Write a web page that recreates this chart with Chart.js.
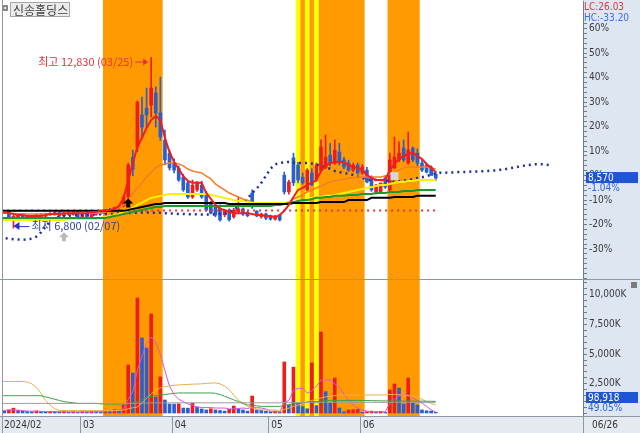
<!DOCTYPE html>
<html lang="ko">
<head>
<meta charset="utf-8">
<title>신송홀딩스</title>
<script src="https://cdn.jsdelivr.net/npm/chart.js@4.4.1/dist/chart.umd.min.js"></script>
<style>
  html, body { margin: 0; padding: 0; background: #fff; overflow: hidden; }
  #chart { display: block; }
</style>
</head>
<body>
<canvas id="chart" width="640" height="433"></canvas>
<script>
// values
const stockName = '신송홀딩스';
const basePrice = 8660; // previous close = 0% line

const dates = [
  '02/01','02/02','02/05','02/06','02/07','02/08','02/13','02/14','02/15','02/16',
  '02/19','02/20','02/21','02/22','02/23','02/26','02/27','02/28','02/29',
  '03/04','03/05','03/06','03/07','03/08','03/11','03/12','03/13','03/14','03/15',
  '03/18','03/19','03/20','03/21','03/22','03/25','03/26','03/27','03/28','03/29',
  '04/01','04/02','04/03','04/04','04/05','04/08','04/09','04/11','04/12','04/15',
  '04/16','04/17','04/18','04/19','04/22','04/23','04/24','04/25','04/26','04/29','04/30',
  '05/02','05/03','05/07','05/08','05/09','05/10','05/13','05/14','05/16','05/17',
  '05/20','05/21','05/22','05/23','05/24','05/27','05/28','05/29','05/30','05/31',
  '06/03','06/04','06/05','06/07','06/10','06/11','06/12','06/13','06/14','06/17',
  '06/18','06/19','06/20','06/21','06/24','06/25','06/26'
];
const monthLabels = ['2024/02', '03', '04', '05', '06'];

const opens = [
  7400,7360,7330,7390,7180,7200,7270,7130,7230,7150,
  7280,7220,7310,7270,7350,7230,7320,7280,7350,7200,
  7300,7150,7280,7330,7310,7420,7400,7520,7580,7900,
  9300,9660,10800,11040,11150,11580,10870,9910,9450,9100,
  8920,8600,8400,7900,8150,8320,8040,7690,7620,7500,
  7270,7440,7200,7370,7480,7350,8040,7400,7200,7300,
  7200,7120,7260,8670,8080,9280,9030,8600,8150,8750,
  8500,8850,8930,9380,9100,9490,9210,9100,8850,9030,
  8750,8850,8600,8080,8080,8570,8150,8930,9210,9630,
  9100,9630,9450,9100,9030,8960,8700
];
const highs = [
  7450,7420,7420,7400,7250,7290,7300,7250,7260,7300,
  7320,7330,7350,7380,7400,7350,7360,7380,7400,7320,
  7340,7300,7350,7400,7450,7500,7550,7600,7950,9100,
  9560,11300,11430,11750,12830,11800,12140,10270,9560,9250,
  9000,8700,8450,8500,8450,8460,8100,7750,7690,7620,
  7440,7480,7500,7900,7520,7400,8150,7420,7330,7330,
  7260,7250,7290,8780,8500,9450,9130,8750,8900,8900,
  9100,9920,10090,9800,9920,9800,9300,9200,9100,9100,
  9050,8950,8650,8350,8400,8650,9450,10020,9850,9920,
  10200,9670,9600,9200,9100,9000,8800
];
const lows = [
  7330,7300,7310,7150,6800,7150,7100,7100,7120,7140,
  7200,7200,7250,7260,7200,7220,7250,7260,7180,7180,
  7100,7140,7250,7280,7300,7380,7390,7450,7550,7850,
  8650,9500,10020,10370,10730,10370,9900,9030,8850,8750,
  8450,8100,7850,7850,8100,7850,7400,7300,7200,7050,
  7200,7050,7150,7330,7250,7200,7500,7200,7150,7100,
  7080,7080,7050,8000,8000,8300,8400,8350,8100,8300,
  8450,8800,8900,9000,9050,9030,8900,8800,8800,8700,
  8700,8400,8100,8000,8050,8200,8100,8900,9150,9150,
  9050,9150,9000,8800,8750,8700,8480
];
const closes = [
  7360,7330,7390,7180,7200,7270,7130,7230,7150,7280,
  7220,7310,7270,7350,7230,7320,7280,7350,7200,7300,
  7150,7280,7330,7310,7420,7400,7520,7580,7900,9030,
  8880,11250,10370,10800,11750,10870,10020,9210,8930,8850,
  8500,8150,7900,8320,8400,7900,7440,7330,7260,7090,
  7420,7100,7440,7480,7300,7240,7550,7230,7300,7150,
  7120,7220,7090,8080,8430,8400,8500,8400,8850,8330,
  9030,9670,9310,9100,9560,9100,8960,8850,9030,8750,
  8960,8430,8150,8320,8390,8250,9210,9310,9450,9210,
  9560,9210,9100,8850,8780,8660,8570
];

// price moving averages
const ma5 = [
  7370,7370,7370,7330,7300,7260,7260,7230,7230,7230,
  7230,7260,7300,7300,7300,7330,7330,7330,7330,7330,
  7330,7370,7370,7410,7410,7440,7480,7580,7870,8470,
  9100,9670,9990,10340,10620,10760,10620,9990,9490,9140,
  8890,8640,8470,8400,8400,8400,8040,7830,7620,7480,
  7440,7370,7330,7330,7330,7330,7300,7260,7260,7230,
  7230,7190,7260,7410,7620,7900,8150,8220,8320,8400,
  8500,8820,9000,9100,9140,9140,9140,9030,8960,8930,
  8850,8680,8570,8500,8500,8500,8850,9070,9240,9350,
  9420,9460,9350,9240,9070,8930,8780
];
const ma20 = [
  7350,7340,7340,7330,7320,7310,7310,7300,7300,7300,
  7300,7300,7310,7310,7320,7320,7320,7330,7330,7330,
  7330,7330,7330,7330,7370,7410,7440,7510,7620,7790,
  8040,8220,8400,8610,8780,8930,9030,9070,9100,9100,
  9070,9000,8890,8820,8780,8750,8640,8540,8360,8250,
  8150,8040,7970,7900,7830,7790,7720,7690,7650,7650,
  7620,7620,7620,7650,7720,7830,7900,7970,8080,8150,
  8220,8290,8360,8430,8470,8500,8540,8570,8570,8610,
  8610,8610,8610,8610,8610,8640,8710,8780,8850,8930,
  8960,8960,8960,8960,8960,8930,8890
];
const ma60 = [
  7090,7090,7090,7090,7090,7090,7090,7090,7090,7090,
  7090,7090,7090,7090,7090,7090,7120,7120,7120,7120,
  7120,7120,7120,7160,7190,7230,7260,7300,7370,7440,
  7510,7620,7690,7790,7870,7900,7940,7970,8010,8010,
  8010,8010,8010,8010,8010,8010,8010,7970,7940,7900,
  7870,7830,7790,7760,7760,7720,7690,7690,7690,7690,
  7690,7690,7690,7690,7720,7720,7760,7790,7830,7870,
  7870,7900,7940,7940,7970,8010,8040,8080,8110,8150,
  8180,8220,8250,8290,8320,8320,8360,8400,8430,8430,
  8470,8470,8500,8500,8500,8500,8500
];
const ma120 = [
  7160,7160,7160,7160,7160,7160,7160,7160,7160,7160,
  7160,7160,7160,7160,7160,7160,7160,7160,7160,7160,
  7160,7160,7160,7160,7160,7190,7230,7260,7300,7330,
  7370,7410,7440,7480,7510,7550,7550,7580,7580,7580,
  7580,7580,7580,7580,7580,7580,7580,7580,7580,7580,
  7580,7580,7580,7580,7580,7580,7580,7580,7580,7580,
  7580,7620,7620,7650,7690,7720,7760,7790,7790,7830,
  7870,7870,7900,7900,7940,7940,7940,7970,7970,7970,
  8010,8010,8010,8040,8040,8040,8080,8080,8080,8110,
  8110,8110,8150,8150,8150,8150,8150
];
const ma240 = [
  7410,7410,7410,7410,7410,7410,7410,7410,7410,7410,
  7410,7410,7410,7410,7410,7410,7410,7410,7410,7410,
  7410,7410,7410,7410,7410,7410,7410,7410,7410,7440,
  7480,7510,7550,7580,7620,7650,7650,7690,7690,7690,
  7690,7690,7690,7690,7690,7690,7690,7690,7690,7690,
  7690,7650,7650,7650,7650,7650,7650,7650,7650,7650,
  7650,7650,7650,7650,7650,7690,7690,7690,7690,7690,
  7690,7720,7720,7720,7720,7720,7720,7790,7790,7790,
  7790,7790,7870,7870,7870,7870,7870,7900,7900,7900,
  7900,7900,7940,7940,7940,7940,7940
];
// blue dotted line, runs 25 days past the last candle
const leadSpan = [
  6490,6470,6450,6430,6410,6400,6390,6400,6430,6500,
  6650,6850,7050,7150,7200,7220,7240,7250,7260,7260,
  7270,7280,7280,7290,7300,7300,7310,7320,7330,7330,
  7340,7340,7350,7350,7350,7340,7340,7330,7320,7310,
  7300,7300,7290,7290,7290,7280,7280,7280,7290,7300,
  7310,7350,7450,7560,7700,7850,8040,8200,8400,8650,
  8900,9050,9100,9130,9140,9120,9100,9100,9100,9080,
  9050,9000,8950,8900,8820,8780,8750,8720,8680,8620,
  8580,8520,8500,8500,8500,8490,8470,8440,8450,8490,
  8500,8530,8570,8600,8640,8690,8740,8760,8760,8770,
  8770,8780,8780,8790,8800,8800,8810,8820,8830,8840,
  8860,8880,8910,8940,8970,9000,9030,9050,9060,9060,
  9040,9020
];
const flatLevel = [7420, 7420]; // red dotted line, first to last day

// volume, thousands of shares
const volumesK = [
  350,250,200,300,450,250,200,180,150,220,
  160,140,180,150,130,170,120,140,110,150,
  130,160,140,120,250,200,320,280,720,4080,
  3410,9720,6360,5520,8380,1390,3080,1140,800,790,
  810,460,450,880,550,380,300,400,300,250,
  200,350,630,400,300,200,1470,300,250,200,
  150,200,150,4340,700,3900,880,570,400,4250,
  660,6860,1840,880,2990,470,150,300,310,350,
  100,150,200,120,180,100,1980,2490,2150,800,
  2990,880,720,300,230,201.67,98.918
];
const vma5 = [
  250,230,250,300,320,280,250,200,190,200,
  180,170,170,160,150,150,140,140,130,140,
  140,140,140,150,180,200,230,300,400,1200,
  1800,3660,4800,5910,6440,6000,5000,3600,2300,1600,
  1200,1000,800,700,550,500,500,500,460,460,
  460,380,400,420,460,420,560,500,460,380,
  200,180,150,950,1100,1980,2100,2150,1730,1900,
  2300,2820,2820,2820,2500,2230,1600,1140,700,460,
  300,200,150,150,150,130,880,1200,1500,1560,
  1560,1300,1100,880,600,300,130
];
const vma20 = [
  2700,2700,2700,2700,2700,2700,2700,2650,2500,2200,
  1700,1100,700,400,250,250,250,250,250,250,
  250,250,250,250,250,250,250,250,300,400,
  480,550,900,1300,1650,1980,2150,2250,2320,2380,
  2400,2430,2450,2470,2480,2500,2530,2560,2570,2500,
  2300,2000,1560,1100,880,600,460,400,320,300,
  300,300,200,350,450,600,700,880,950,1100,
  1200,1300,1400,1450,1500,1560,1560,1560,1560,1560,
  1560,1560,1560,1560,1560,1560,1600,1600,1580,1550,
  1500,1450,1350,1200,1000,850,715
];
const vma60 = [
  1500,1500,1500,1500,1500,1500,1500,1500,1500,1500,
  1500,1400,1300,1200,1100,1000,950,900,850,850,
  850,850,850,820,800,800,800,800,800,850,
  900,1000,1150,1390,1450,1500,1560,1600,1650,1700,
  1730,1730,1730,1730,1730,1730,1730,1730,1700,1600,
  1450,1300,1150,1000,850,720,700,650,600,600,
  600,600,600,700,750,800,850,900,950,1000,
  1000,1050,1080,1100,1100,1100,1100,1100,1100,1100,
  1100,1100,1080,1080,1060,1060,1060,1050,1050,1050,
  1050,1050,1040,1040,1030,1030,1020
];
const vma120 = [
  850,850,850,850,850,850,850,850,850,850,
  850,850,850,850,850,850,850,850,850,850,
  850,850,850,850,850,850,850,850,850,850,
  850,860,870,880,890,900,900,900,900,900,
  900,900,900,900,900,900,900,900,900,900,
  900,900,900,900,900,900,900,900,900,900,
  900,900,900,910,910,920,920,920,930,930,
  930,940,940,940,940,940,940,940,940,940,
  940,940,940,940,940,940,940,940,940,940,
  940,940,940,940,940,940,940
];

// highlighted days: [first, last, kind]
const bands = [
  [24, 36, 'o'], [66, 66, 'y'], [67, 67, 'o'], [68, 68, 'y'],
  [69, 69, 'o'], [70, 70, 'y'], [71, 80, 'o'], [86, 92, 'o']
];
const pctLabels = [60, 50, 40, 30, 20, 10, 0, -10, -20, -30];
const volLabelsK = [2500, 5000, 7500, 10000];
const markers = [
  { day: 29, price: 7850, kind: 'buy' },
  { day: 15, price: 6650, kind: 'grayArrow' },
  { day: 87, price: 8640, kind: 'graySquare' }
];

// ---- styling ----
const UP = '#ee1d1d', DOWN = '#2a5fd0';
const NUM_FONT = "'DejaVu Sans Condensed', 'DejaVu Sans', sans-serif";
const KR_FONT = "'Noto Sans CJK KR', sans-serif";
const AXIS_COL = '#6f7c8c';
const DATE_STRIP = 17;

const idx = dates.map((d, i) => i);
const pts = arr => arr.map((v, i) => ({ x: i, y: v }));
const candleCol = idx.map(i => closes[i] >= opens[i] ? UP : DOWN);
const volCol = idx.map(i => i === 0 || volumesK[i] >= volumesK[i - 1] ? UP : DOWN);
const fmt = n => n.toLocaleString('en-US');

// month separators sit half a day before the first trading day of each month
const monthTicks = [];
idx.forEach(i => { if (i > 0 && dates[i].slice(0, 2) !== dates[i - 1].slice(0, 2)) monthTicks.push(i - 0.5); });

const X_MIN = 1.72, X_MAX = 128.08;

function line(data, color, width, axis, extra) {
  return Object.assign({
    type: 'line', yAxisID: axis, data: pts(data), borderColor: color,
    borderWidth: width, pointRadius: 0, tension: 0, fill: false, order: 2
  }, extra || {});
}

// right-hand axes: fixed width, no extra label padding above/below
function fixAxis(s) {
  s.width = 57;
  s.paddingTop = 0;
  s.paddingBottom = 0;
}

const frame = {
  id: 'frame',
  beforeDraw(chart) {
    const { ctx, chartArea: a, width, height } = chart;
    ctx.save();
    ctx.fillStyle = '#ffffff';
    ctx.fillRect(0, 0, width, height);
    ctx.fillStyle = '#dde6f1';
    ctx.fillRect(a.right, 0, width - a.right, a.bottom);
    ctx.fillStyle = '#e5eaf1';
    ctx.fillRect(0, a.bottom, width, height - a.bottom);
    ctx.restore();
  },
  beforeDatasetsDraw(chart) {
    const { ctx, chartArea: a, scales: { x } } = chart;
    ctx.save();
    bands.forEach(([from, to, kind]) => {
      const x0 = x.getPixelForValue(from - 0.5), x1 = x.getPixelForValue(to + 0.5);
      ctx.fillStyle = kind === 'y' ? '#ffff00' : '#ff9a00';
      ctx.fillRect(x0, 0, x1 - x0, a.bottom);
    });
    ctx.restore();
  },
  afterDatasetsDraw(chart) {
    const { ctx, chartArea: a, scales: { x, y, yv }, width, height } = chart;
    ctx.save();
    // frame, panel separator, date strip
    ctx.strokeStyle = '#8e98a5';
    ctx.lineWidth = 1;
    ctx.beginPath();
    ctx.moveTo(0, Math.round(yv.top) - 0.5); ctx.lineTo(width, Math.round(yv.top) - 0.5);
    ctx.moveTo(0, Math.round(a.bottom) + 0.5); ctx.lineTo(width, Math.round(a.bottom) + 0.5);
    ctx.moveTo(a.left - 0.5, 0); ctx.lineTo(a.left - 0.5, height);
    ctx.moveTo(Math.round(a.right) + 0.5, a.bottom); ctx.lineTo(Math.round(a.right) + 0.5, height);
    monthTicks.forEach(v => {
      const px = Math.round(x.getPixelForValue(v)) + 0.5;
      ctx.moveTo(px, a.bottom); ctx.lineTo(px, height);
    });
    ctx.stroke();
    ctx.fillStyle = '#333333';
    ctx.font = '10px ' + NUM_FONT;
    ctx.textAlign = 'left'; ctx.textBaseline = 'middle';
    [X_MIN].concat(monthTicks).forEach((v, i) => {
      ctx.fillText(monthLabels[i], x.getPixelForValue(v) + (i === 0 ? 1 : 3), a.bottom + 9);
    });

    // highest price note
    let hi = 0, lo = 0;
    idx.forEach(i => { if (highs[i] > highs[hi]) hi = i; if (lows[i] < lows[lo]) lo = i; });
    const hx = x.getPixelForValue(hi), hy = y.getPixelForValue(highs[hi]) + 4;
    ctx.fillStyle = '#e2333b'; ctx.strokeStyle = '#e2333b';
    ctx.font = '11px ' + KR_FONT;
    ctx.textAlign = 'right';
    ctx.fillText('최고 ' + fmt(highs[hi]) + ' (' + dates[hi] + ')', hx - 18, hy);
    ctx.beginPath(); ctx.moveTo(hx - 16, hy + 0.5); ctx.lineTo(hx - 7, hy + 0.5); ctx.stroke();
    ctx.beginPath(); ctx.moveTo(hx - 3, hy + 0.5); ctx.lineTo(hx - 8, hy - 3); ctx.lineTo(hx - 8, hy + 4); ctx.closePath(); ctx.fill();

    // lowest price note
    const lx = x.getPixelForValue(lo), ly = y.getPixelForValue(lows[lo]) - 2;
    ctx.fillStyle = '#2436c8'; ctx.strokeStyle = '#2436c8';
    ctx.beginPath(); ctx.moveTo(lx, ly); ctx.lineTo(lx + 6, ly - 4); ctx.lineTo(lx + 6, ly + 4); ctx.closePath(); ctx.fill();
    ctx.beginPath(); ctx.moveTo(lx + 5, ly + 0.5); ctx.lineTo(lx + 16, ly + 0.5); ctx.stroke();
    ctx.fillStyle = '#33409a';
    ctx.textAlign = 'left';
    ctx.fillText('최저 ' + fmt(lows[lo]) + ' (' + dates[lo] + ')', lx + 18, ly);

    // signal markers
    markers.forEach(m => {
      const mx = x.getPixelForValue(m.day), my = y.getPixelForValue(m.price);
      if (m.kind === 'graySquare') {
        ctx.fillStyle = '#d6d6d6';
        ctx.fillRect(mx - 4, my - 4, 8, 8);
        return;
      }
      ctx.fillStyle = m.kind === 'buy' ? '#000000' : '#b9b9b9';
      ctx.beginPath();
      ctx.moveTo(mx, my); ctx.lineTo(mx + 5, my + 5); ctx.lineTo(mx + 2, my + 5);
      ctx.lineTo(mx + 2, my + 9); ctx.lineTo(mx - 2, my + 9); ctx.lineTo(mx - 2, my + 5);
      ctx.lineTo(mx - 5, my + 5); ctx.closePath(); ctx.fill();
    });
    ctx.restore();
  },
  afterDraw(chart) {
    const { ctx, chartArea: a, scales: { y, yv }, width } = chart;
    const last = closes.length - 1;
    ctx.save();
    ctx.textBaseline = 'middle'; ctx.textAlign = 'left';

    // title box
    ctx.fillStyle = '#8a8a8a'; ctx.fillRect(2, 5, 6, 6);
    ctx.fillStyle = '#e2e2e2'; ctx.fillRect(4, 7, 2, 2);
    ctx.fillStyle = '#ececec'; ctx.fillRect(10.5, 2.5, 59, 14);
    ctx.strokeStyle = '#a5a5a5'; ctx.lineWidth = 1; ctx.strokeRect(10.5, 2.5, 59, 14);
    ctx.fillStyle = '#3c3c3c'; ctx.font = '12px ' + KR_FONT;
    ctx.fillText(stockName, 13, 10);

    // right side readouts
    ctx.font = '10px ' + NUM_FONT;
    const lc = (closes[last] / Math.min(...lows) - 1) * 100;
    const hc = (closes[last] / Math.max(...highs) - 1) * 100;
    ctx.fillStyle = '#dde6f1'; ctx.fillRect(a.right + 1, 0, 56, 23);
    ctx.fillStyle = '#e2333b'; ctx.fillText('LC:' + lc.toFixed(2), a.right + 1, 7);
    ctx.fillStyle = '#3a6fd8'; ctx.fillText('HC:' + hc.toFixed(2), a.right + 1, 18);

    const py = y.getPixelForValue(closes[last]);
    ctx.fillStyle = '#1f55d2'; ctx.fillRect(a.right + 3, py - 6, 52, 11);
    ctx.fillStyle = '#ffffff'; ctx.fillText(fmt(closes[last]), a.right + 5, py);
    ctx.fillStyle = '#2e63dc';
    ctx.fillText(((closes[last] / basePrice - 1) * 100).toFixed(2) + '%', a.right + 5, py + 10);

    const vy = Math.min(yv.getPixelForValue(volumesK[last]), a.bottom - 18);
    ctx.fillStyle = '#1f55d2'; ctx.fillRect(a.right + 3, vy - 6, 52, 11);
    ctx.fillStyle = '#ffffff'; ctx.fillText(fmt(Math.round(volumesK[last] * 1000)), a.right + 5, vy);
    ctx.fillStyle = '#2e63dc';
    ctx.fillText((volumesK[last] / volumesK[last - 1] * 100).toFixed(2) + '%', a.right + 5, vy + 10);

    // current date in the axis corner
    ctx.fillStyle = '#333333';
    ctx.fillText(dates[last], a.right + 9, a.bottom + 9);

    // small close box of the volume pane
    ctx.fillStyle = '#7a7a7a'; ctx.fillRect(width - 9, yv.top + 2, 6, 6);
    ctx.restore();
  }
};

new Chart(document.getElementById('chart'), {
  type: 'line',
  data: {
    datasets: [
      // candles
      { type: 'bar', yAxisID: 'y', grouped: false, order: 6,
        data: idx.map(i => ({ x: i, y: [lows[i], highs[i]] })),
        backgroundColor: candleCol, barThickness: 1, maxBarThickness: 1 },
      { type: 'bar', yAxisID: 'y', grouped: false, order: 5, minBarLength: 1,
        data: idx.map(i => ({ x: i, y: [opens[i], closes[i]] })),
        backgroundColor: candleCol, barThickness: 3, maxBarThickness: 3 },
      // price lines
      line(leadSpan, '#1d2fa6', 2.5, 'y', { borderDash: [2, 4], order: 4 }),
      Object.assign(line(flatLevel, '#e8333a', 2, 'y', { borderDash: [2, 4], order: 4 }),
        { data: [{ x: 0, y: flatLevel[0] }, { x: dates.length - 1, y: flatLevel[1] }] }),
      line(ma240, '#000000', 2, 'y'),
      line(ma120, '#199a2e', 2, 'y'),
      line(ma60, '#f7f200', 2, 'y'),
      line(ma20, '#f57c2a', 1.5, 'y'),
      line(ma5, '#f21d1d', 2, 'y', { order: 1 }),
      // volume
      { type: 'bar', yAxisID: 'yv', grouped: false, order: 6,
        data: pts(volumesK), backgroundColor: volCol, barThickness: 3, maxBarThickness: 3 },
      line(vma120, '#9a9a9a', 1, 'yv'),
      line(vma60, '#3f9f4a', 1, 'yv'),
      line(vma20, '#e8b04a', 1, 'yv'),
      line(vma5, '#d955d9', 1, 'yv')
    ]
  },
  options: {
    responsive: false,
    animation: false,
    devicePixelRatio: 1,
    layout: { padding: { left: 3, top: 1, right: 0, bottom: DATE_STRIP } },
    plugins: { legend: { display: false }, tooltip: { enabled: false }, title: { display: false } },
    scales: {
      x: {
        type: 'linear', min: X_MIN, max: X_MAX, offset: false, display: false
      },
      y: {
        position: 'right', stack: 'pane', stackWeight: 279,
        min: 4966, max: 14829,
        afterBuildTicks: s => {
          const t = [];
          for (let p = -42; p <= 70; p += 2) t.push({ value: basePrice * (1 + p / 100) });
          s.ticks = t;
        },
        afterFit: fixAxis,
        ticks: {
          callback: v => {
            const p = Math.round((v / basePrice - 1) * 100);
            return pctLabels.includes(p) ? p + '%' : '';
          },
          autoSkip: false, padding: 2, color: '#3a3a3a', font: { size: 10, family: NUM_FONT }
        },
        grid: { drawOnChartArea: false, tickLength: 4, color: AXIS_COL },
        border: { color: AXIS_COL }
      },
      yv: {
        position: 'right', stack: 'pane', stackWeight: 136,
        min: -210, max: 11240,
        afterBuildTicks: s => {
          const t = [];
          for (let k = 0; k <= 11000; k += 500) t.push({ value: k });
          s.ticks = t;
        },
        afterFit: fixAxis,
        ticks: {
          callback: v => volLabelsK.includes(v) ? fmt(v) + 'K' : '',
          autoSkip: false, padding: 2, color: '#3a3a3a', font: { size: 10, family: NUM_FONT }
        },
        grid: { drawOnChartArea: false, tickLength: 4, color: AXIS_COL },
        border: { color: AXIS_COL }
      }
    }
  },
  plugins: [frame]
});
</script>
</body>
</html>
